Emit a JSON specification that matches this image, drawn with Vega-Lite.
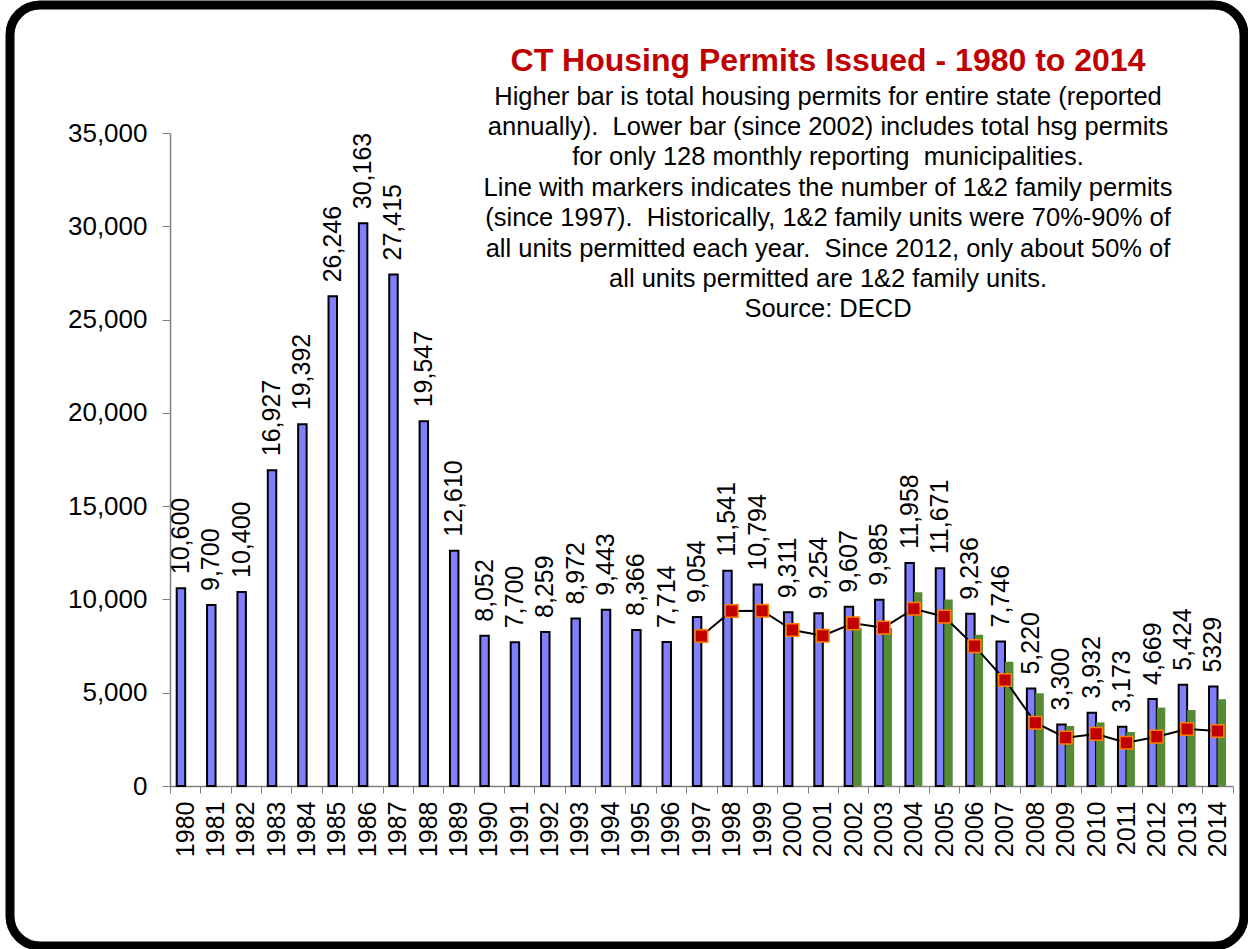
{
  "$schema": "https://vega.github.io/schema/vega-lite/v6.json",
  "width": 1234,
  "height": 941,
  "autosize": {"type": "none"},
  "padding": {"left": 10, "top": 5, "right": 4, "bottom": 3},
  "background": "white",
  "config": {
    "font": "Liberation Sans",
    "view": {"stroke": "black", "strokeWidth": 9, "cornerRadius": 30, "fill": "white"}
  },
  "title": {
    "text": "CT Housing Permits Issued - 1980 to 2014",
    "subtitle": [
      "Higher bar is total housing permits for entire state (reported",
      "annually).\u00a0 Lower bar (since 2002) includes total hsg permits",
      "for only 128 monthly reporting\u00a0 municipalities.",
      "Line with markers indicates the number of 1&2 family permits",
      "(since 1997).\u00a0 Historically, 1&2 family units were 70%-90% of",
      "all units permitted each year.\u00a0 Since 2012, only about 50% of",
      "all units permitted are 1&2 family units.",
      "Source: DECD"
    ],
    "anchor": "middle",
    "frame": "group",
    "offset": -319,
    "dx": 201,
    "color": "#c00000",
    "font": "Liberation Sans",
    "fontSize": 32,
    "fontWeight": "bold",
    "subtitleFont": "Liberation Sans",
    "subtitleFontSize": 25.5,
    "subtitleColor": "black",
    "subtitleLineHeight": 30.4,
    "subtitlePadding": 7
  },
  "data": {
    "values": [
      {"year": "1980", "total": 10600, "label": "10,600", "muni": null, "fam": null},
      {"year": "1981", "total": 9700, "label": "9,700", "muni": null, "fam": null},
      {"year": "1982", "total": 10400, "label": "10,400", "muni": null, "fam": null},
      {"year": "1983", "total": 16927, "label": "16,927", "muni": null, "fam": null},
      {"year": "1984", "total": 19392, "label": "19,392", "muni": null, "fam": null},
      {"year": "1985", "total": 26246, "label": "26,246", "muni": null, "fam": null},
      {"year": "1986", "total": 30163, "label": "30,163", "muni": null, "fam": null},
      {"year": "1987", "total": 27415, "label": "27,415", "muni": null, "fam": null},
      {"year": "1988", "total": 19547, "label": "19,547", "muni": null, "fam": null},
      {"year": "1989", "total": 12610, "label": "12,610", "muni": null, "fam": null},
      {"year": "1990", "total": 8052, "label": "8,052", "muni": null, "fam": null},
      {"year": "1991", "total": 7700, "label": "7,700", "muni": null, "fam": null},
      {"year": "1992", "total": 8259, "label": "8,259", "muni": null, "fam": null},
      {"year": "1993", "total": 8972, "label": "8,972", "muni": null, "fam": null},
      {"year": "1994", "total": 9443, "label": "9,443", "muni": null, "fam": null},
      {"year": "1995", "total": 8366, "label": "8,366", "muni": null, "fam": null},
      {"year": "1996", "total": 7714, "label": "7,714", "muni": null, "fam": null},
      {"year": "1997", "total": 9054, "label": "9,054", "muni": null, "fam": 8040},
      {"year": "1998", "total": 11541, "label": "11,541", "muni": null, "fam": 9380},
      {"year": "1999", "total": 10794, "label": "10,794", "muni": null, "fam": 9395},
      {"year": "2000", "total": 9311, "label": "9,311", "muni": null, "fam": 8360},
      {"year": "2001", "total": 9254, "label": "9,254", "muni": null, "fam": 8055},
      {"year": "2002", "total": 9607, "label": "9,607", "muni": 8470, "fam": 8720},
      {"year": "2003", "total": 9985, "label": "9,985", "muni": 8470, "fam": 8485},
      {"year": "2004", "total": 11958, "label": "11,958", "muni": 10380, "fam": 9500},
      {"year": "2005", "total": 11671, "label": "11,671", "muni": 10000, "fam": 9075},
      {"year": "2006", "total": 9236, "label": "9,236", "muni": 8110, "fam": 7500},
      {"year": "2007", "total": 7746, "label": "7,746", "muni": 6660, "fam": 5680},
      {"year": "2008", "total": 5220, "label": "5,220", "muni": 4965, "fam": 3390},
      {"year": "2009", "total": 3300, "label": "3,300", "muni": 3215, "fam": 2590},
      {"year": "2010", "total": 3932, "label": "3,932", "muni": 3410, "fam": 2790},
      {"year": "2011", "total": 3173, "label": "3,173", "muni": 2895, "fam": 2320},
      {"year": "2012", "total": 4669, "label": "4,669", "muni": 4200, "fam": 2645},
      {"year": "2013", "total": 5424, "label": "5,424", "muni": 4070, "fam": 3055},
      {"year": "2014", "total": 5329, "label": "5329", "muni": 4645, "fam": 2950}
    ]
  },
  "encoding": {
    "x": {
      "field": "year",
      "type": "ordinal",
      "scale": {"range": [160, 1222.7], "paddingInner": 0, "paddingOuter": 0},
      "axis": {
        "labelAngle": -90,
        "labelFontSize": 25,
        "labelColor": "black",
        "tickBand": "extent",
        "tickSize": 7,
        "tickColor": "#808080",
        "domainColor": "#808080",
        "domainWidth": 1.5,
        "labelPadding": 8,
        "offset": -160,
        "title": null
      }
    }
  },
  "layer": [
    {
      "transform": [
        {"fold": ["total", "muni"], "as": ["series", "value"]},
        {"filter": "datum.value != null"}
      ],
      "mark": {"type": "bar", "strokeWidth": 2},
      "encoding": {
        "xOffset": {"field": "series", "type": "nominal", "scale": {"domain": ["total", "muni"], "paddingInner": 0, "paddingOuter": 0.79}},
        "y": {
          "field": "value",
          "type": "quantitative",
          "scale": {"domain": [0, 35000], "range": [781, 128], "nice": false, "zero": true},
          "axis": {
            "values": [0, 5000, 10000, 15000, 20000, 25000, 30000, 35000],
            "format": ",d",
            "labelFontSize": 26,
            "labelColor": "black",
            "tickSize": 8,
            "labelPadding": 15,
            "tickColor": "#808080",
            "domainColor": "#808080",
            "domainWidth": 1.5,
            "grid": false,
            "title": null,
            "offset": -160
          }
        },
        "fill": {"field": "series", "type": "nominal", "scale": {"domain": ["total", "muni"], "range": ["#8080ff", "#558b35"]}, "legend": null},
        "stroke": {"field": "series", "type": "nominal", "scale": {"domain": ["total", "muni"], "range": ["#000000", "transparent"]}, "legend": null}
      }
    },
    {
      "transform": [
        {"fold": ["total"], "as": ["series", "value"]}
      ],
      "mark": {"type": "text", "angle": 270, "align": "left", "baseline": "middle", "dx": 14, "fontSize": 25, "color": "black"},
      "encoding": {
        "xOffset": {"field": "series", "type": "nominal"},
        "y": {"field": "value", "type": "quantitative"},
        "text": {"field": "label"}
      }
    },
    {
      "transform": [{"filter": "datum.fam != null"}],
      "mark": {"type": "line", "color": "black", "strokeWidth": 2},
      "encoding": {"y": {"field": "fam", "type": "quantitative"}}
    },
    {
      "transform": [{"filter": "datum.fam != null"}],
      "mark": {"type": "point", "shape": "square", "filled": true, "fill": "#c00000", "stroke": "#ff8000", "strokeWidth": 1.5, "size": 160, "opacity": 1},
      "encoding": {"y": {"field": "fam", "type": "quantitative"}}
    }
  ]
}
